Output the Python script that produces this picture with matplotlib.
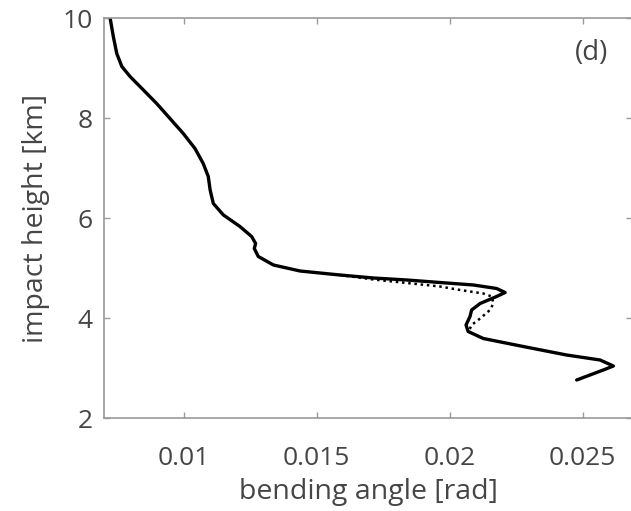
import matplotlib
matplotlib.use("Agg")
import matplotlib.pyplot as plt

# solid profile (bending angle [rad], impact height [km])
angle = [0.00724, 0.00736, 0.00749, 0.00768, 0.00799, 0.00849, 0.00899, 0.00949,
         0.00999, 0.01043, 0.01074, 0.01093, 0.01100, 0.01112, 0.01150, 0.01212,
         0.01256, 0.01271, 0.01266, 0.01281, 0.01338, 0.01438, 0.01588, 0.01714,
         0.01840, 0.01964, 0.02090, 0.02177, 0.02209, 0.02177, 0.02115, 0.02083,
         0.02077, 0.02062, 0.02070, 0.02127, 0.02277, 0.02440, 0.02566, 0.02616,
         0.02578, 0.02528, 0.02478]
height = [10.0, 9.63, 9.29, 9.03, 8.83, 8.56, 8.29, 7.99,
          7.69, 7.39, 7.09, 6.83, 6.56, 6.29, 6.06, 5.83,
          5.63, 5.49, 5.39, 5.23, 5.06, 4.94, 4.86, 4.80,
          4.76, 4.71, 4.66, 4.59, 4.51, 4.43, 4.29, 4.16,
          4.03, 3.86, 3.73, 3.59, 3.43, 3.26, 3.16, 3.04,
          2.96, 2.86, 2.76]

# dotted profile where it departs from the solid one
angle_dot = [0.01588, 0.01714, 0.01840, 0.01964, 0.02040, 0.02127, 0.02159,
             0.02165, 0.02152, 0.02115, 0.02083, 0.02077, 0.02070]
height_dot = [4.86, 4.77, 4.70, 4.63, 4.56, 4.49, 4.43,
              4.29, 4.16, 3.99, 3.86, 3.79, 3.73]

xticks = [0.01, 0.015, 0.02, 0.025]
xticklabels = ["0.01", "0.015", "0.02", "0.025"]
yticks = [2, 4, 6, 8, 10]

plt.rcParams['font.family'] = ['Open Sans', 'DejaVu Sans']
txt = '#454545'
grey = '#999999'

fig = plt.figure(figsize=(6.31, 5.11), dpi=100)
ax = fig.add_axes([104 / 631, 93 / 511, 528 / 631, 400 / 511])

ax.plot(angle_dot, height_dot, color='black', lw=1.8, ls=(0, (1, 1.5)))
ax.plot(angle, height, color='black', lw=2.4, solid_joinstyle='round',
        solid_capstyle='round')

ax.set_xlim(0.00701, 0.02686)
ax.set_ylim(2, 10)
ax.set_xticks(xticks)
ax.set_xticklabels(xticklabels)
ax.set_yticks(yticks)
ax.tick_params(direction='in', length=4, width=1, color=grey, labelcolor=txt,
               labelsize=19, top=True, right=True)
ax.tick_params(axis='x', pad=20)
ax.tick_params(axis='y', pad=8)
for s in ax.spines.values():
    s.set_color(grey)
    s.set_linewidth(1.2)

ax.set_xlabel('bending angle [rad]', fontsize=20.5, color=txt, labelpad=5)
ax.set_ylabel('impact height [km]', fontsize=20.5, color=txt, labelpad=9)
ax.text(0.923, 0.912, '(d)', transform=ax.transAxes, fontsize=20, color=txt,
        ha='center', va='center')

fig.savefig('out.png', dpi=100)
